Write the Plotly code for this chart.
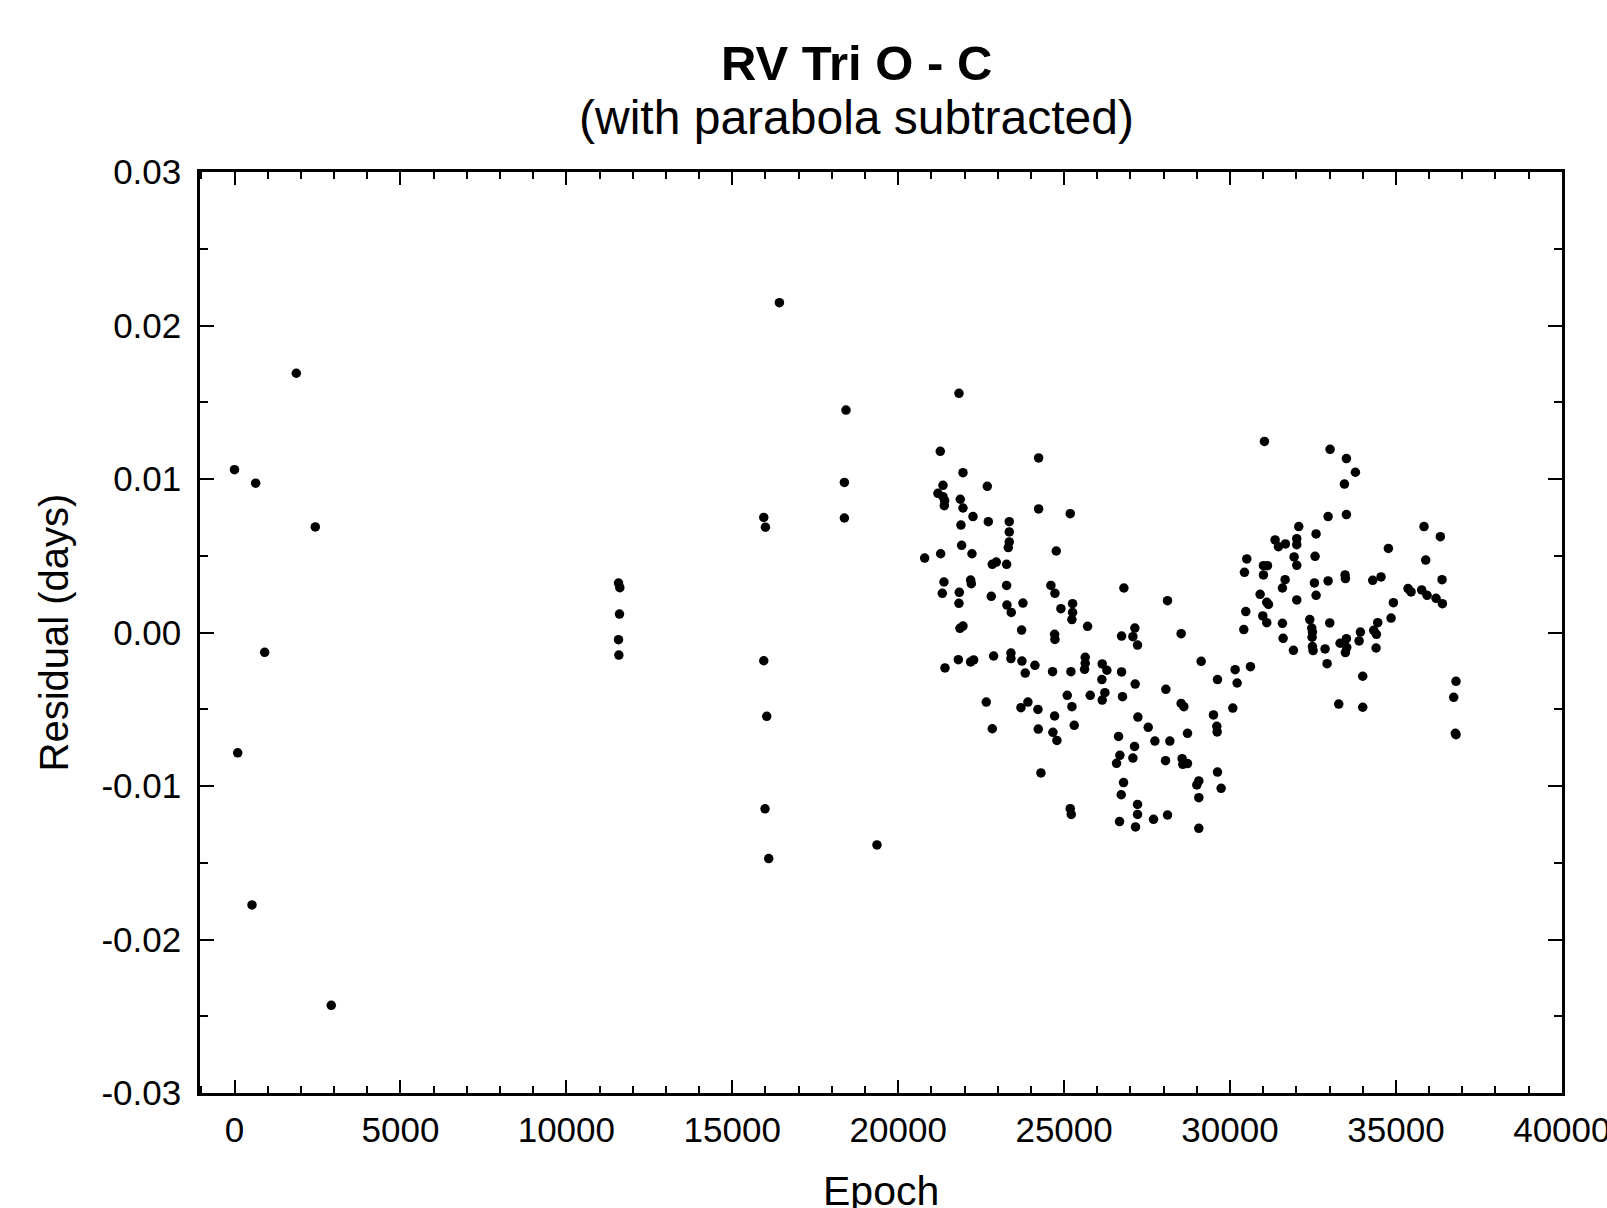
import plotly.graph_objects as go

# ---- data: epoch and O-C residual (days) ----
epoch_early = [0, 96, 527, 638, 909, 1862, 2434, 2916]
resid_early = [0.01061, -0.00784, -0.01775, 0.00973, -0.00129, 0.01689, 0.00688, -0.02429]

epoch_mid = [11572, 11612, 11602, 11572, 11582, 15949, 16000, 15949, 16039, 15988, 16099,
             16421, 18428, 18379, 18379, 19361]
resid_mid = [0.00322, 0.00292, 0.00120, -0.00047, -0.00147, 0.00750, 0.00686, -0.00184, -0.00546,
             -0.01149, -0.01473, 0.02149, 0.01449, 0.00978, 0.00746, -0.01384]

epoch_a = [21832, 21270, 24232, 21953, 21350, 22686, 21200, 21350, 21400, 21390,
           21872, 21953, 22254, 24232, 25185, 22716, 23348, 21892, 23348, 23348,
           23318, 21912, 24764, 20798, 21280, 22224, 22836, 22957, 23268, 21380,
           22183, 22204, 21330, 21842, 21832, 22806, 23268, 24603, 24724, 26802,
           28117, 23278, 23408, 23760, 25256, 25256, 25236, 24904, 25708, 21862,
           21953, 23720, 24714, 24724, 26732, 27133, 27073, 27213, 21410, 21812,
           22183, 22274, 22876, 23398, 23398, 23730, 23830, 24121, 24653, 25206,
           25637, 25637, 25617, 26149, 26290, 26139, 26732, 27143, 28067, 22655,
           23700, 23910, 24212, 24714, 25095, 25236, 25788, 26149, 26229, 26761,
           22836, 24222, 24663, 24784, 25306, 27224, 27535, 27736, 28187, 26641,
           27123, 26681, 26581, 27073, 28057, 24302, 26792, 26722, 25185, 25216,
           27213, 27213, 27695, 28117, 26671, 27153]
resid_a = [0.01558, 0.01180, 0.01137, 0.01041, 0.00959, 0.00952, 0.00907, 0.00885, 0.00859, 0.00826,
           0.00868, 0.00811, 0.00755, 0.00805, 0.00774, 0.00722, 0.00722, 0.00700, 0.00655, 0.00590,
           0.00553, 0.00568, 0.00531, 0.00485, 0.00513, 0.00513, 0.00444, 0.00459, 0.00444, 0.00329,
           0.00342, 0.00318, 0.00255, 0.00262, 0.00190, 0.00236, 0.00307, 0.00307, 0.00255, 0.00290,
           0.00207, 0.00179, 0.00131, 0.00192, 0.00188, 0.00131, 0.00084, 0.00155, 0.00040, 0.00027,
           0.00042, 0.00016, -0.00012, -0.00045, -0.00023, 0.00029, -0.00027, -0.00082, -0.00231, -0.00177,
           -0.00192, -0.00179, -0.00153, -0.00134, -0.00170, -0.00186, -0.00264, -0.00214, -0.00255, -0.00255,
           -0.00162, -0.00201, -0.00240, -0.00205, -0.00246, -0.00307, -0.00257, -0.00336, -0.00370, -0.00453,
           -0.00490, -0.00453, -0.00501, -0.00544, -0.00409, -0.00483, -0.00409, -0.00440, -0.00392, -0.00418,
           -0.00627, -0.00629, -0.00650, -0.00703, -0.00605, -0.00551, -0.00618, -0.00707, -0.00707, -0.00677,
           -0.00742, -0.00800, -0.00852, -0.00818, -0.00835, -0.00915, -0.00978, -0.01057, -0.01148, -0.01185,
           -0.01120, -0.01185, -0.01217, -0.01189, -0.01232, -0.01267]

epoch_b = [31038, 33016, 33508, 33779, 33448, 32956, 33508, 32072, 32594, 31359,
           31460, 31671, 32012, 32012, 31932, 32012, 32564, 30506, 30436, 31008,
           31129, 31008, 31661, 31580, 32544, 32956, 33468, 33478, 34301, 34552,
           34773, 35847, 36339, 35898, 36390, 35365, 35456, 35777, 35938, 36209,
           36400, 34924, 34854, 34452, 34331, 34412, 33930, 33890, 34402, 33508,
           33317, 33518, 33478, 33006, 32404, 32464, 32484, 32474, 32484, 32504,
           32865, 32926, 31912, 31580, 31600, 30908, 31108, 31159, 30476, 30416,
           30988, 31108, 32012, 32594, 28528, 29131, 29623, 30155, 30215, 30617,
           30084, 29502, 29602, 29613, 28528, 28609, 28719, 28558, 28578, 28719,
           29623, 29060, 29000, 29733, 29060, 29060, 34000, 33277, 34000, 36811,
           36741, 36791, 36811]
resid_b = [0.01245, 0.01193, 0.01133, 0.01044, 0.00967, 0.00755, 0.00768, 0.00690, 0.00642, 0.00603,
           0.00559, 0.00577, 0.00611, 0.00572, 0.00492, 0.00438, 0.00496, 0.00479, 0.00392, 0.00435,
           0.00435, 0.00375, 0.00344, 0.00290, 0.00323, 0.00336, 0.00375, 0.00351, 0.00340, 0.00362,
           0.00548, 0.00690, 0.00624, 0.00472, 0.00344, 0.00286, 0.00264, 0.00277, 0.00242, 0.00223,
           0.00188, 0.00194, 0.00094, 0.00064, 0.00014, -0.00012, 0.00003, -0.00055, -0.00101, -0.00040,
           -0.00070, -0.00097, -0.00131, 0.00062, 0.00084, 0.00029, 0.00003, -0.00031, -0.00092, -0.00118,
           -0.00107, -0.00203, -0.00116, 0.00060, -0.00038, 0.00249, 0.00197, 0.00183, 0.00136, 0.00019,
           0.00108, 0.00064, 0.00212, 0.00242, -0.00008, -0.00188, -0.00307, -0.00242, -0.00329, -0.00223,
           -0.00492, -0.00537, -0.00611, -0.00648, -0.00462, -0.00483, -0.00657, -0.00822, -0.00859, -0.00854,
           -0.00909, -0.00967, -0.00993, -0.01015, -0.01076, -0.01276, -0.00285, -0.00466, -0.00487, -0.00318,
           -0.00422, -0.00657, -0.00666]

epoch = epoch_early + epoch_mid + epoch_a + epoch_b
resid = resid_early + resid_mid + resid_a + resid_b

x_ticks = [0, 5000, 10000, 15000, 20000, 25000, 30000, 35000, 40000]
x_ticktext = ["0", "5000", "10000", "15000", "20000", "25000", "30000", "35000", "40000"]
y_ticks = [-0.03, -0.02, -0.01, 0.0, 0.01, 0.02, 0.03]
y_ticktext = ["-0.03", "-0.02", "-0.01", "0.00", "0.01", "0.02", "0.03"]

FONT = "Liberation Sans, Arial, sans-serif"

fig = go.Figure()
fig.add_trace(go.Scatter(
    x=epoch, y=resid, mode="markers",
    marker=dict(color="black", size=9.5, line=dict(width=0)),
    showlegend=False, hoverinfo="x+y",
))

axis_common = dict(
    showgrid=False, zeroline=False,
    showline=True, linecolor="black", linewidth=2.5, mirror="allticks",
    ticks="inside", tickcolor="black", tickwidth=2,
    tickfont=dict(family=FONT, size=35, color="black"),
    automargin=False, ticklabeloverflow="allow",
)

fig.update_xaxes(
    range=[-1040, 40005], tickvals=x_ticks, ticktext=x_ticktext, ticklen=13,
    minor=dict(dtick=1000, ticks="inside", ticklen=7, tickwidth=1.5, tickcolor="black", showgrid=False),
    ticklabelstandoff=4,
    **axis_common,
)
fig.update_yaxes(
    range=[-0.03, 0.03], tickvals=y_ticks, ticktext=y_ticktext, ticklen=14,
    minor=dict(dtick=0.005, ticks="inside", ticklen=8, tickwidth=1.5, tickcolor="black", showgrid=False),
    ticklabelstandoff=9,
    **axis_common,
)

fig.update_layout(
    width=1607, height=1208,
    margin=dict(l=200, r=45, t=172, b=115, pad=0),
    paper_bgcolor="white", plot_bgcolor="white",
    font=dict(family=FONT, color="black"),
    annotations=[
        dict(text="<b>RV Tri O - C</b>", xref="paper", yref="paper",
             x=(856 - 200) / 1362, y=(1093 - 63) / 921, xanchor="center", yanchor="middle",
             showarrow=False, font=dict(family=FONT, size=49, color="black")),
        dict(text="(with parabola subtracted)", xref="paper", yref="paper",
             x=(856 - 200) / 1362, y=(1093 - 118) / 921, xanchor="center", yanchor="middle",
             showarrow=False, font=dict(family=FONT, size=48, color="black")),
        dict(text="Epoch", xref="paper", yref="paper",
             x=0.5, y=(1093 - 1191) / 921, xanchor="center", yanchor="middle",
             showarrow=False, font=dict(family=FONT, size=41, color="black")),
        dict(text="Residual (days)", xref="paper", yref="paper",
             x=(53 - 200) / 1362, y=0.5, xanchor="center", yanchor="middle", textangle=-90,
             showarrow=False, font=dict(family=FONT, size=40, color="black")),
    ],
)

fig.write_html(
    "out.html",
    config={"displayModeBar": False},
    post_script="document.body.style.margin='0px';document.body.style.overflow='hidden';",
)
